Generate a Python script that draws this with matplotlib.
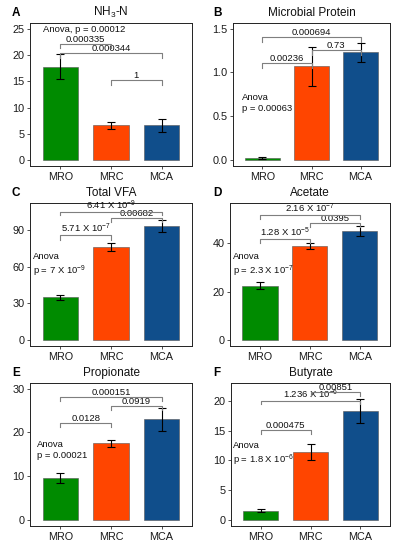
import matplotlib
matplotlib.use("Agg")
import matplotlib.pyplot as plt

plt.rcParams['font.family'] = ['Liberation Sans', 'DejaVu Sans']
plt.rcParams['mathtext.fontset'] = 'custom'
plt.rcParams['mathtext.rm'] = 'Liberation Sans'
plt.rcParams['mathtext.it'] = 'Liberation Sans:italic'

groups = ["MRO", "MRC", "MCA"]
colors = ["#008B00", "#FF4500", "#104E8B"]

titles = [r"NH$_3$-N", "Microbial Protein", "Total VFA", "Acetate", "Propionate", "Butyrate"]
letters = ["A", "B", "C", "D", "E", "F"]

means = [
    [17.8, 6.6, 6.6],
    [0.02, 1.07, 1.23],
    [35.0, 76.0, 93.0],
    [22.5, 38.7, 45.0],
    [9.6, 17.5, 23.0],
    [1.6, 11.4, 18.3],
]
errs = [
    [2.35, 0.6, 1.25],
    [0.01, 0.22, 0.11],
    [2.2, 3.2, 4.5],
    [1.5, 1.2, 2.0],
    [1.1, 0.85, 2.6],
    [0.22, 1.3, 2.05],
]
yticks = [
    [0, 5, 10, 15, 20, 25],
    [0.0, 0.5, 1.0, 1.5],
    [0, 30, 60, 90],
    [0, 20, 40],
    [0, 10, 20, 30],
    [0, 5, 10, 15, 20],
]
ytick_labels = [
    ["0", "5", "10", "15", "20", "25"],
    ["0.0", "0.5", "1.0", "1.5"],
    ["0", "30", "60", "90"],
    ["0", "20", "40"],
    ["0", "10", "20", "30"],
    ["0", "5", "10", "15", "20"],
]
ylims = [
    (-1.15, 26.15),
    (-0.069, 1.565),
    (-4.6, 111.7),
    (-2.3, 56.4),
    (-1.37, 31.3),
    (-1.0, 23.0),
]
# brackets: (from group, to group, height, tick drop, label)
brackets = [
    [(0, 1, 22.1, 0.8, "0.000335"), (0, 2, 20.4, 0.9, "0.000344"), (1, 2, 15.2, 0.8, "1")],
    [(0, 1, 1.107, 0.057, "0.00236"), (0, 2, 1.405, 0.058, "0.000694"), (1, 2, 1.252, 0.052, "0.73")],
    [(0, 1, 85.4, 3.6, r"5.71 X 10$^{-7}$"), (0, 2, 104.3, 2.7, r"6.41 X 10$^{-9}$"),
     (1, 2, 99.7, 3.5, "0.00682")],
    [(0, 1, 41.8, 1.7, r"1.28 X 10$^{-5}$"), (0, 2, 51.6, 1.6, r"2.16 X 10$^{-7}$"),
     (1, 2, 48.2, 1.6, "0.0395")],
    [(0, 1, 22.1, 0.9, "0.0128"), (0, 2, 28.0, 0.9, "0.000151"), (1, 2, 26.1, 0.9, "0.0919")],
    [(0, 1, 15.1, 0.7, "0.000475"), (0, 2, 20.0, 0.6, r"1.236 X 10$^{-6}$"),
     (1, 2, 21.5, 0.6, "0.00851")],
]
anova_text = [
    "Anova, p = 0.00012",
    "Anova\np = 0.00063",
    "Anova\n" + r"p = 7 X 10$^{-9}$",
    "Anova\n" + r"p = 2.3 X 10$^{-7}$",
    "Anova\np = 0.00021",
    "Anova\n" + r"p = 1.8 X 10$^{-6}$",
]
anova_pos = [
    (0.66, 25.0),
    (0.58, 0.65),
    (0.45, 60.7),
    (0.46, 30.7),
    (0.53, 16.0),
    (0.44, 11.0),
]

# axes rects in pixel coords (left, top, right, bottom)
W, H = 398, 550
rects = [
    (30, 23, 192, 166), (233, 23, 390, 166),
    (30, 203, 192, 346), (230, 203, 390, 346),
    (30, 383, 192, 526), (231, 383, 390, 526),
]
letter_pos = [(12, 13), (213, 13), (12, 193), (213, 193), (12, 373), (213, 373)]

fig = plt.figure(figsize=(W / 100, H / 100), dpi=100)
x = [1, 2, 3]
for k in range(6):
    l, t, r, b = rects[k]
    ax = fig.add_axes([l / W, 1 - b / H, (r - l) / W, (b - t) / H])
    ax.bar(x, means[k], width=0.7, color=colors, edgecolor="#555555", linewidth=0.4, zorder=2)
    ax.errorbar(x, means[k], yerr=errs[k], fmt='none', ecolor='black', elinewidth=0.8,
                capsize=3.2, capthick=0.8, zorder=3)
    for (i, j, h, d, lab) in brackets[k]:
        ax.plot([x[i], x[i], x[j], x[j]], [h - d, h, h, h - d], color='#7f7f7f', lw=0.8, zorder=4)
        ax.text((x[i] + x[j]) / 2, h, lab, ha='center', va='bottom', fontsize=6.8, color='#111111')
    ax_, ay_ = anova_pos[k]
    ax.text(ax_, ay_, anova_text[k], ha='left', va='center', fontsize=6.8, color='#111111',
            linespacing=1.25)
    ax.set_xlim(0.4, 3.6)
    ax.set_ylim(*ylims[k])
    ax.set_xticks(x)
    ax.set_xticklabels(groups, fontsize=7.8, color='#1a1a1a')
    ax.set_yticks(yticks[k])
    ax.set_yticklabels(ytick_labels[k], fontsize=7.8, color='#1a1a1a')
    ax.tick_params(direction='out', length=2.5, width=0.6, color='#333333', pad=1.5)
    for s in ax.spines.values():
        s.set_linewidth(0.7)
        s.set_color('#222222')
    ax.set_title(titles[k], fontsize=8.5, pad=5, color='#111111')
    lx, ly = letter_pos[k]
    fig.text(lx / W, 1 - ly / H, letters[k], fontsize=8.5, fontweight='bold', ha='left', va='center')

fig.savefig("out.png", dpi=100)
